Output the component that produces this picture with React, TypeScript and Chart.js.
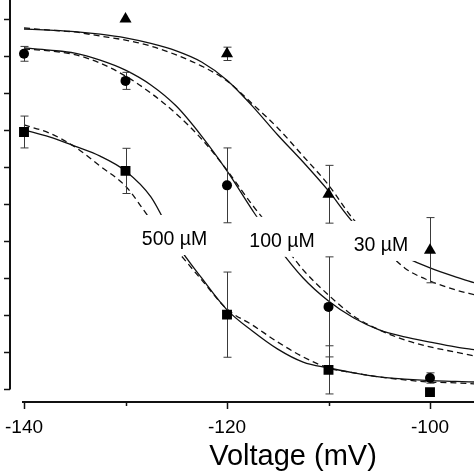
import { useEffect, useRef } from "react";
import { Chart, registerables } from "chart.js";

Chart.register(...registerables);

// ---- data ----
const tri30V = [-130, -120, -110, -100];
const tri30 = [1.0, 0.906, 0.527, 0.376];
const tri30Err = [0, 0.018, 0.078, 0.088];

const markV = [-140, -130, -120, -110, -100];
const circ100 = [0.906, 0.833, 0.551, 0.223, 0.031];
const circ100Err = [0.02, 0.023, 0.101, 0.135, 0.014];
const sq500 = [0.695, 0.59, 0.202, 0.053, -0.007];
const sq500Err = [0.043, 0.061, 0.115, 0.065, 0];

const fitV = [-140, -137.5, -135, -132.5, -130, -127.5, -125, -122.5, -120, -117.5, -115, -112.5, -110, -107.5, -105, -102.5, -100, -97.5, -95.5];
const fit30Solid = [0.973, 0.97, 0.966, 0.959, 0.949, 0.934, 0.914, 0.884, 0.835, 0.765, 0.687, 0.614, 0.536, 0.449, 0.395, 0.358, 0.328, 0.304, 0.287];
const fit30Dashed = [0.976, 0.97, 0.965, 0.954, 0.943, 0.927, 0.903, 0.873, 0.833, 0.771, 0.706, 0.63, 0.552, 0.458, 0.395, 0.328, 0.293, 0.269, 0.255];
const fit100Solid = [0.922, 0.916, 0.908, 0.889, 0.862, 0.822, 0.765, 0.684, 0.59, 0.484, 0.385, 0.301, 0.239, 0.193, 0.161, 0.142, 0.128, 0.115, 0.107];
const fit100Dashed = [0.919, 0.914, 0.904, 0.881, 0.846, 0.8, 0.744, 0.676, 0.592, 0.498, 0.412, 0.323, 0.255, 0.198, 0.161, 0.134, 0.115, 0.101, 0.09];
const fit500Solid = [0.701, 0.682, 0.657, 0.63, 0.59, 0.52, 0.395, 0.301, 0.215, 0.158, 0.109, 0.074, 0.058, 0.045, 0.034, 0.028, 0.024, 0.022, 0.02];
const fit500Dashed = [0.714, 0.692, 0.655, 0.603, 0.549, 0.458, 0.377, 0.296, 0.217, 0.174, 0.128, 0.088, 0.058, 0.045, 0.034, 0.026, 0.02, 0.018, 0.015];

const labelTexts = ["500 \u00b5M", "100 \u00b5M", "30 \u00b5M"];
const labelV = [-125.17, -114.58, -104.83];
const labelY = [0.39, 0.385, 0.374];

const xLabeledTicks = [-140, -120, -100];
const yTicks = [0, 0.1, 0.2, 0.3, 0.4, 0.5, 0.6, 0.7, 0.8, 0.9, 1.0];
const xTitle = "Voltage (mV)";
const xTitleAt = -113.5;

const X_MIN = -141.478;
const X_MAX = -95.665;
const Y_MIN = -0.0324;
const Y_MAX = 1.0513;

const FONT = '"Liberation Sans", Arial, Helvetica, sans-serif';

const pts = (xs: number[], ys: number[]) => xs.map((x, i) => ({ x, y: ys[i] }));

const LAST_LINE_INDEX = 3;

const overlayPlugin = {
  id: "overlay",
  afterDatasetDraw(chart: any, args: any) {
    if (args.index !== LAST_LINE_INDEX) return;
    const { ctx, scales } = chart;
    const x = scales.x;
    const y = scales.y;
    ctx.save();
    labelTexts.forEach((t, i) => {
      const px = x.getPixelForValue(labelV[i]);
      const py = y.getPixelForValue(labelY[i]);
      ctx.fillStyle = "#ffffff";
      ctx.fillRect(px - 39, py - 30, 78, 40);
      ctx.fillStyle = "#000000";
      ctx.font = `19.5px ${FONT}`;
      ctx.textAlign = "center";
      ctx.textBaseline = "alphabetic";
      ctx.fillText(t, px, py);
    });
    ctx.strokeStyle = "#3a3a3a";
    ctx.lineWidth = 1;
    const bar = (v: number, val: number, err: number) => {
      if (!err) return;
      const px = Math.round(x.getPixelForValue(v)) + 0.5;
      const top = y.getPixelForValue(val + err);
      const bot = y.getPixelForValue(val - err);
      ctx.beginPath();
      ctx.moveTo(px, top);
      ctx.lineTo(px, bot);
      ctx.moveTo(px - 4, top);
      ctx.lineTo(px + 4, top);
      ctx.moveTo(px - 4, bot);
      ctx.lineTo(px + 4, bot);
      ctx.stroke();
    };
    tri30V.forEach((v, i) => bar(v, tri30[i], tri30Err[i]));
    markV.forEach((v, i) => bar(v, circ100[i], circ100Err[i]));
    markV.forEach((v, i) => bar(v, sq500[i], sq500Err[i]));
    ctx.restore();
  },
  afterDraw(chart: any) {
    const { ctx, scales, chartArea } = chart;
    const x = scales.x;
    const y = scales.y;
    ctx.save();
    ctx.strokeStyle = "#111";
    const ax = chartArea.left + 1;
    ctx.lineWidth = 2;
    ctx.beginPath();
    ctx.moveTo(ax, chartArea.top);
    ctx.lineTo(ax, y.getPixelForValue(0));
    ctx.stroke();
    ctx.lineWidth = 1.5;
    yTicks.forEach((t) => {
      const py = Math.round(y.getPixelForValue(t)) + 0.5;
      ctx.beginPath();
      ctx.moveTo(ax - 6, py);
      ctx.lineTo(ax, py);
      ctx.stroke();
    });
    const ay = chartArea.bottom + 0.5;
    ctx.lineWidth = 2;
    ctx.beginPath();
    ctx.moveTo(x.getPixelForValue(xLabeledTicks[0]) - 2, ay);
    ctx.lineTo(chartArea.right, ay);
    ctx.stroke();
    ctx.lineWidth = 1.5;
    x.ticks.forEach((tk: any) => {
      const px = Math.round(x.getPixelForValue(tk.value)) + 0.5;
      const len = xLabeledTicks.includes(tk.value) ? 7 : 4;
      ctx.beginPath();
      ctx.moveTo(px, ay);
      ctx.lineTo(px, ay + len);
      ctx.stroke();
    });
    ctx.fillStyle = "#000";
    ctx.font = `29px ${FONT}`;
    ctx.textAlign = "center";
    ctx.textBaseline = "alphabetic";
    ctx.fillText(xTitle, x.getPixelForValue(xTitleAt), chartArea.bottom + 63);
    ctx.restore();
  },
};

export default function App() {
  const ref = useRef<HTMLCanvasElement | null>(null);

  useEffect(() => {
    if (!ref.current) return;
    const solid = { borderColor: "#111", borderWidth: 1.3, pointRadius: 0, showLine: true, cubicInterpolationMode: "monotone" as const, fill: false };
    const dashed = { ...solid, borderDash: [6, 4] };
    const chart = new Chart(ref.current, {
      type: "scatter",
      data: {
        datasets: [
          { label: "30 \u00b5M", data: pts(tri30V, tri30), pointStyle: "triangle", pointRadius: 7, backgroundColor: "#000", borderColor: "#000", borderWidth: 0, showLine: false },
          { label: "100 \u00b5M", data: pts(markV, circ100), pointStyle: "circle", pointRadius: 5, backgroundColor: "#000", borderColor: "#000", borderWidth: 0, showLine: false },
          { label: "500 \u00b5M", data: pts(markV, sq500), pointStyle: "rect", pointRadius: 7, backgroundColor: "#000", borderColor: "#000", borderWidth: 0, showLine: false },
          { label: "fit 30 solid", data: pts(fitV, fit30Solid), ...solid },
          { label: "fit 30 dashed", data: pts(fitV, fit30Dashed), ...dashed },
          { label: "fit 100 solid", data: pts(fitV, fit100Solid), ...solid },
          { label: "fit 100 dashed", data: pts(fitV, fit100Dashed), ...dashed },
          { label: "fit 500 solid", data: pts(fitV, fit500Solid), ...solid },
          { label: "fit 500 dashed", data: pts(fitV, fit500Dashed), ...dashed },
        ],
      },
      options: {
        responsive: false,
        animation: false,
        events: [],
        layout: { autoPadding: false, padding: { left: 9, right: 0, top: 0, bottom: 0 } },
        plugins: { legend: { display: false }, tooltip: { enabled: false } },
        scales: {
          x: {
            type: "linear",
            min: X_MIN,
            max: X_MAX,
            grid: { display: false, drawTicks: false },
            border: { display: false },
            ticks: {
              stepSize: 10,
              includeBounds: false,
              autoSkip: false,
              maxRotation: 0,
              padding: 15,
              color: "#000",
              font: { family: FONT, size: 19 },
              callback: (v: any) => (xLabeledTicks.includes(Number(v)) ? String(v) : ""),
            },
            afterFit: (s: any) => {
              s.height = 72.5;
              s.paddingLeft = 0;
              s.paddingRight = 0;
            },
          },
          y: { type: "linear", display: false, min: Y_MIN, max: Y_MAX },
        },
      },
      plugins: [overlayPlugin],
    });
    return () => chart.destroy();
  }, []);

  return (
    <div style={{ position: "fixed", left: 0, top: 0, width: 474, height: 474, background: "#fff" }}>
      <canvas ref={ref} width={474} height={474} style={{ display: "block" }} />
    </div>
  );
}
